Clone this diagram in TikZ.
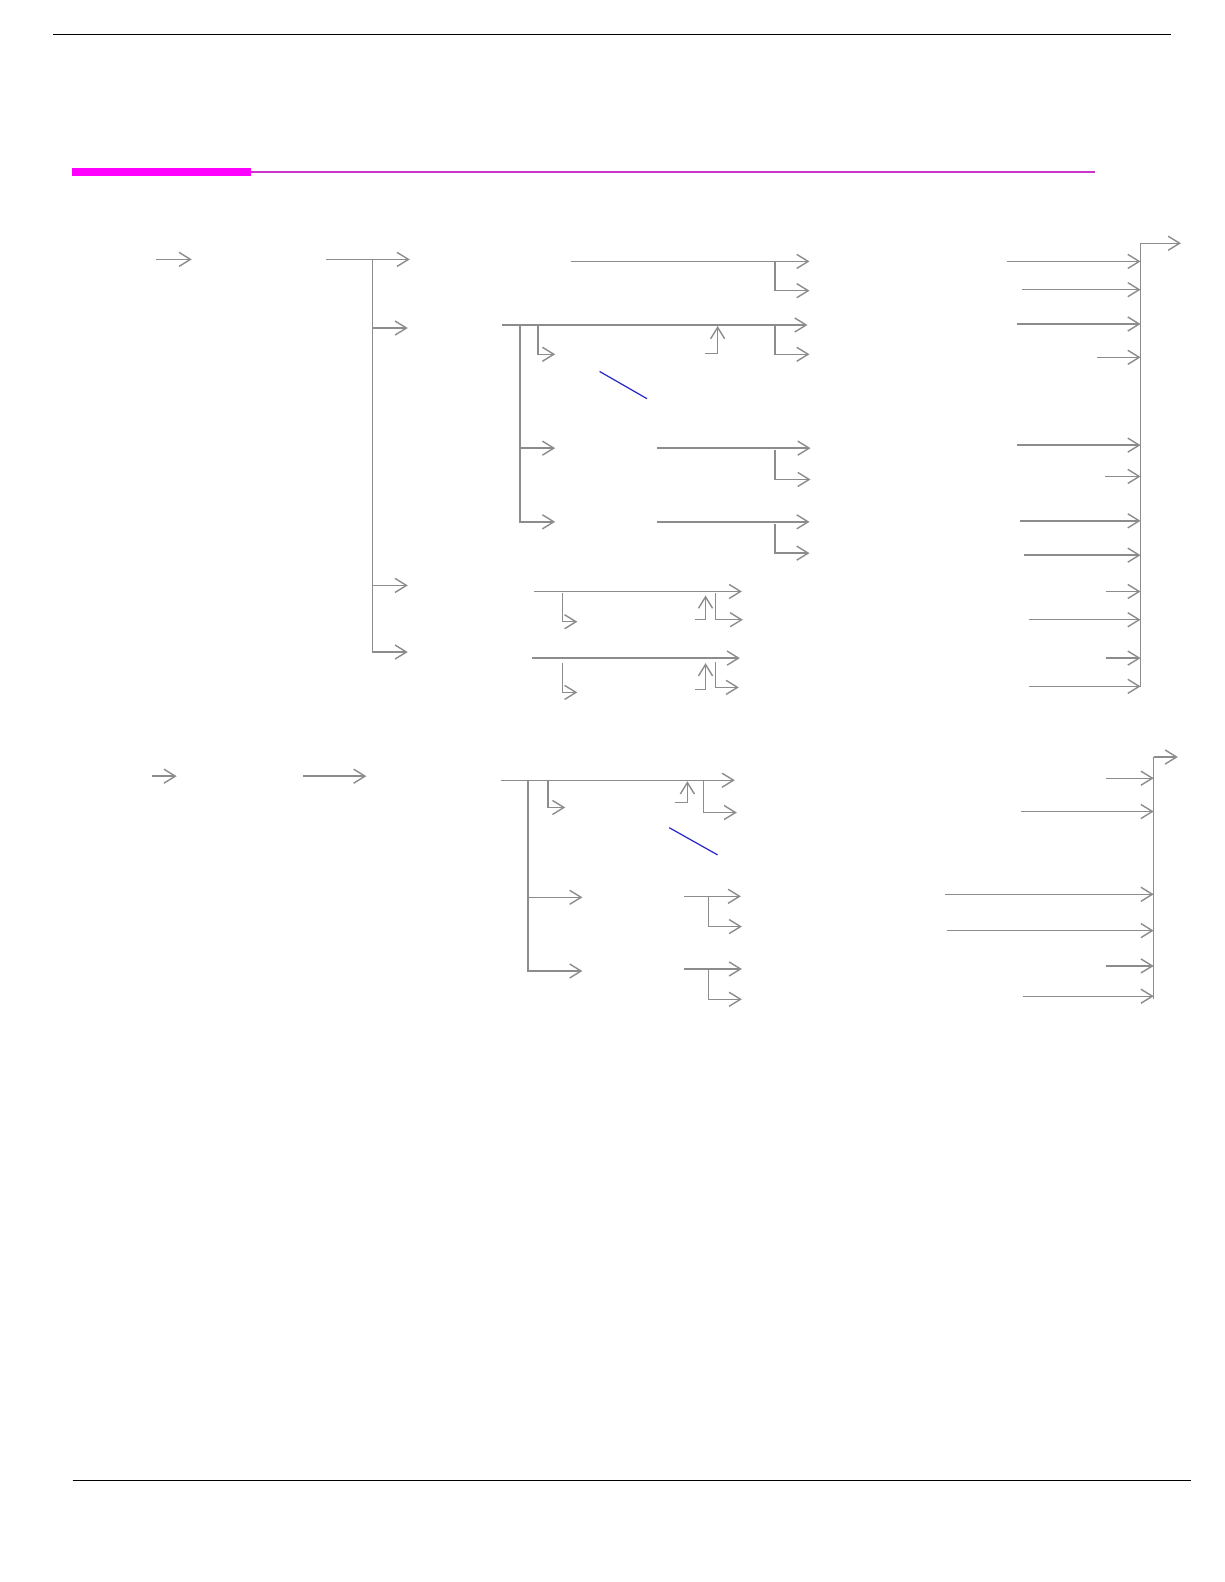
\documentclass[tikz,border=0pt]{standalone}
\usetikzlibrary{arrows.meta}
\definecolor{linegray}{RGB}{140,140,140}
\definecolor{barmag}{RGB}{255,0,255}
\definecolor{rulemag}{RGB}{204,51,204}
\definecolor{cutblue}{RGB}{40,40,200}
\begin{document}
\begin{tikzpicture}[x=0.02019cm,y=-0.02019cm,
  flow/.style={draw=linegray,line width=0.8pt,-{Straight Barb[length=6.5pt,width=8pt]}},
  plain/.style={draw=linegray,line width=0.8pt},
  cut/.style={draw=cutblue,line width=0.7pt}]
  \useasboundingbox (0cm,0cm) rectangle (24.48cm,-31.64cm);
  % header and footer rules
  \coordinate (topL) at (53,34); \coordinate (topR) at (1160,34);
  \draw[black,line width=0.8pt] (topL) -- (topR);
  \fill[barmag] (71,166) rectangle (249,174);
  \coordinate (magL) at (249,170); \coordinate (magR) at (1085,170);
  \draw[rulemag,line width=1.2pt] (magL) -- (magR);
  \coordinate (footL) at (72,1467); \coordinate (footR) at (1180,1467);
  \draw[black,line width=0.6pt] (footL) -- (footR);

  % first block
  \coordinate (s1in) at (155,257); \coordinate (s1a) at (190,257);
  \draw[flow] (s1in) -- (s1a);
  \coordinate (s1out) at (323,257); \coordinate (hub) at (369,257);
  \coordinate (g1) at (406,257); \coordinate (g2) at (404,325);
  \coordinate (g3) at (404,580); \coordinate (g4) at (404,646);
  \draw[flow] (s1out) -- (g1);
  \foreach \g in {g2,g3,g4} \draw[flow] (hub) |- (\g);

  \coordinate (b1s) at (566,259); \coordinate (b1e) at (802,259);
  \coordinate (b1k) at (768,259); \coordinate (b1f) at (802,288);
  \draw[flow] (b1s) -- (b1e);
  \draw[flow] (b1k) |- (b1f);

  \coordinate (b2s) at (497,322); \coordinate (b2e) at (800,322);
  \coordinate (b2hub) at (515,322);
  \coordinate (b2k) at (533,323); \coordinate (b2n) at (550,351);
  \coordinate (b2u1) at (698,350); \coordinate (b2u2) at (711,323);
  \coordinate (b2m) at (768,323); \coordinate (b2f) at (802,351);
  \draw[flow] (b2s) -- (b2e);
  \draw[flow] (b2k) |- (b2n);
  \draw[flow] (b2u1) -| (b2u2);
  \draw[flow] (b2m) |- (b2f);
  \coordinate (b3in) at (550,444); \coordinate (b4in) at (550,517);
  \draw[flow] (b2hub) |- (b3in);
  \draw[flow] (b2hub) |- (b4in);
  \coordinate (cut1a) at (594,368); \coordinate (cut1b) at (641,395);
  \draw[cut] (cut1a) -- (cut1b);

  \coordinate (b3s) at (651,444); \coordinate (b3e) at (803,444);
  \coordinate (b3k) at (768,446); \coordinate (b3f) at (803,475);
  \draw[flow] (b3s) -- (b3e);
  \draw[flow] (b3k) |- (b3f);
  \coordinate (b4s) at (651,517); \coordinate (b4e) at (802,517);
  \coordinate (b4k) at (768,519); \coordinate (b4f) at (802,548);
  \draw[flow] (b4s) -- (b4e);
  \draw[flow] (b4k) |- (b4f);

  \coordinate (c1s) at (529,586); \coordinate (c1e) at (735,586);
  \coordinate (c1k) at (557,588); \coordinate (c1n) at (572,616);
  \coordinate (c1u1) at (689,614); \coordinate (c1u2) at (699,590);
  \coordinate (c1m) at (709,588); \coordinate (c1f) at (736,614);
  \draw[flow] (c1s) -- (c1e);
  \draw[flow] (c1k) |- (c1n);
  \draw[flow] (c1u1) -| (c1u2);
  \draw[flow] (c1m) |- (c1f);

  \coordinate (c2s) at (527,652); \coordinate (c2e) at (733,652);
  \coordinate (c2k) at (557,657); \coordinate (c2n) at (572,686);
  \coordinate (c2u1) at (689,683); \coordinate (c2u2) at (699,657);
  \coordinate (c2m) at (709,656); \coordinate (c2f) at (732,681);
  \draw[flow] (c2s) -- (c2e);
  \draw[flow] (c2k) |- (c2n);
  \draw[flow] (c2u1) -| (c2u2);
  \draw[flow] (c2m) |- (c2f);

  \coordinate (bus1) at (1130,241); \coordinate (bus1e) at (1170,241);
  \coordinate (bus1b) at (1130,681);
  \draw[plain] (bus1b) -- (bus1);
  \draw[flow] (bus1) -- (bus1e);
  \foreach \n/\x/\y in {1/998/259,2/1013/287,3/1008/321,4/1087/354,
      5/1008/441,6/1095/472,7/1011/516,8/1015/550,
      9/1096/586,10/1019/614,11/1096/652,12/1019/680}{
    \coordinate (r\n) at (\x,\y);
    \draw[flow] (r\n) -- (r\n -| bus1);
  }

  % second block
  \coordinate (s2in) at (151,769); \coordinate (s2a) at (175,769);
  \coordinate (s2out) at (300,769); \coordinate (s2b) at (363,769);
  \draw[flow] (s2in) -- (s2a);
  \draw[flow] (s2out) -- (s2b);

  \coordinate (e1s) at (496,773); \coordinate (e1e) at (728,773);
  \coordinate (ehub) at (523,773);
  \coordinate (e1k) at (543,774); \coordinate (e1n) at (560,800);
  \coordinate (e1u1) at (669,795); \coordinate (e1u2) at (681,774);
  \coordinate (e1m) at (697,774); \coordinate (e1f) at (730,805);
  \draw[flow] (e1s) -- (e1e);
  \draw[flow] (e1k) |- (e1n);
  \draw[flow] (e1u1) -| (e1u2);
  \draw[flow] (e1m) |- (e1f);
  \coordinate (f1in) at (577,889); \coordinate (f2in) at (577,962);
  \draw[flow] (ehub) |- (f1in);
  \draw[flow] (ehub) |- (f2in);
  \coordinate (cut2a) at (663,820); \coordinate (cut2b) at (711,847);
  \draw[cut] (cut2a) -- (cut2b);

  \coordinate (f1s) at (678,888); \coordinate (f1e) at (734,888);
  \coordinate (f1k) at (702,889); \coordinate (f1f) at (735,918);
  \draw[flow] (f1s) -- (f1e);
  \draw[flow] (f1k) |- (f1f);
  \coordinate (f2s) at (678,960); \coordinate (f2e) at (735,960);
  \coordinate (f2k) at (702,961); \coordinate (f2f) at (735,990);
  \draw[flow] (f2s) -- (f2e);
  \draw[flow] (f2k) |- (f2f);

  \coordinate (bus2) at (1143,750); \coordinate (bus2e) at (1167,750);
  \coordinate (bus2b) at (1143,990);
  \draw[plain] (bus2b) -- (bus2);
  \draw[flow] (bus2) -- (bus2e);
  \foreach \n/\x/\y in {1/1096/771,2/1012/804,3/936/886,
      4/938/922,5/1096/957,6/1014/987}{
    \coordinate (q\n) at (\x,\y);
    \draw[flow] (q\n) -- (q\n -| bus2);
  }
\end{tikzpicture}
\end{document}
